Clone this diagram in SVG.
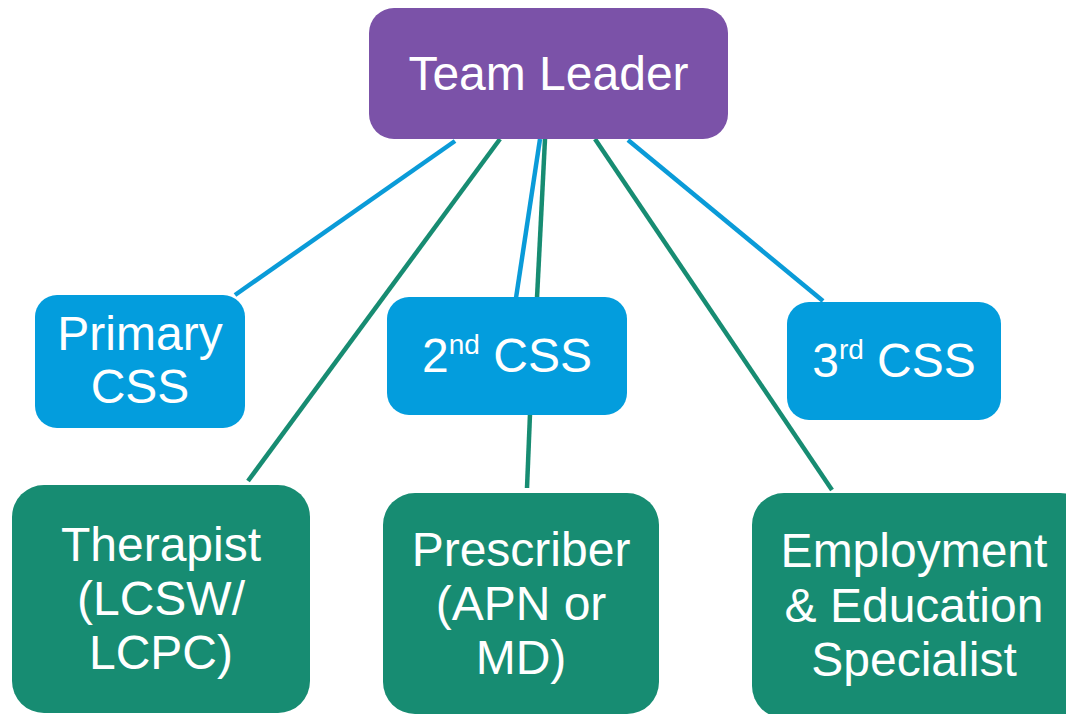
<svg xmlns="http://www.w3.org/2000/svg" width="1066" height="714" viewBox="0 0 1066 714">
<style>
.t{font-family:"Liberation Sans",Arial,sans-serif;font-size:48px;fill:#ffffff;text-anchor:middle}
.sup{font-size:28px}
.blue{stroke:#0A9BD8;stroke-width:4.5;fill:none}
.green{stroke:#178C72;stroke-width:4.5;fill:none}
.nb{fill:#039DDD}
.ng{fill:#178C72}
</style>
<rect width="1066" height="714" fill="#ffffff"/>
<g id="connectors">
<line class="blue" x1="455" y1="141" x2="235" y2="295"/>
<line class="blue" x1="540" y1="139" x2="516" y2="298"/>
<line class="blue" x1="628" y1="140" x2="823" y2="301"/>
<line class="green" x1="500" y1="139" x2="248" y2="481"/>
<line class="green" x1="545" y1="139" x2="537" y2="298"/>
<line class="green" x1="530" y1="414" x2="527" y2="488"/>
<line class="green" x1="595" y1="139" x2="832" y2="490"/>
</g>
<g id="team-leader">
<rect x="369" y="8" width="359" height="131" rx="25" fill="#7B52A8"/>
<text class="t" x="548.5" y="90">Team Leader</text>
</g>
<g id="primary-css">
<rect class="nb" x="35" y="295" width="210" height="133" rx="22"/>
<text class="t" x="140" y="350">Primary</text>
<text class="t" x="140" y="403">CSS</text>
</g>
<g id="second-css">
<rect class="nb" x="387" y="297" width="240" height="118" rx="22"/>
<text class="t" x="507" y="372">2<tspan class="sup" dy="-18">nd</tspan><tspan dy="18"> CSS</tspan></text>
</g>
<g id="third-css">
<rect class="nb" x="787" y="302" width="214" height="118" rx="22"/>
<text class="t" x="894" y="377">3<tspan class="sup" dy="-18">rd</tspan><tspan dy="18"> CSS</tspan></text>
</g>
<g id="therapist">
<rect class="ng" x="12" y="485" width="298" height="228" rx="32"/>
<text class="t" x="161" y="561">Therapist</text>
<text class="t" x="161" y="615">(LCSW/</text>
<text class="t" x="161" y="669">LCPC)</text>
</g>
<g id="prescriber">
<rect class="ng" x="383" y="493" width="276" height="221" rx="32"/>
<text class="t" x="521" y="566">Prescriber</text>
<text class="t" x="521" y="620">(APN or</text>
<text class="t" x="521" y="674">MD)</text>
</g>
<g id="employment">
<rect class="ng" x="752" y="493" width="340" height="225" rx="32"/>
<text class="t" x="914" y="567">Employment</text>
<text class="t" x="914" y="622">&amp; Education</text>
<text class="t" x="914" y="676">Specialist</text>
</g>
</svg>
